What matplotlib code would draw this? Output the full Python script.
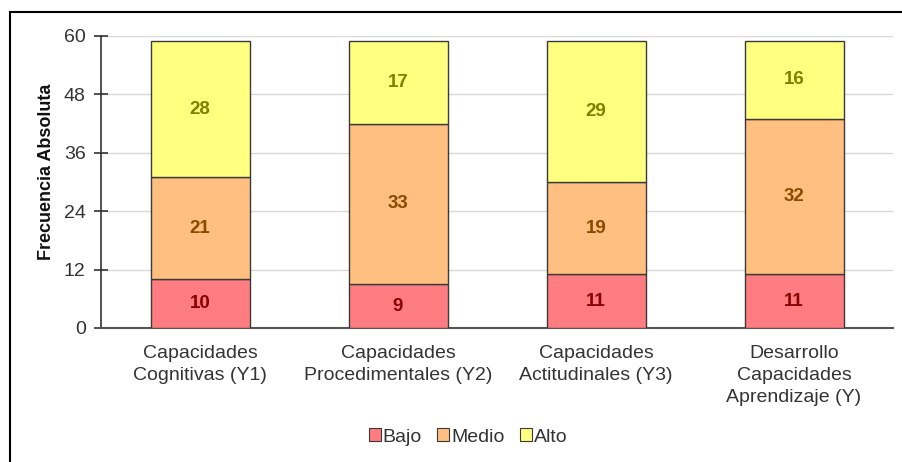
import matplotlib
matplotlib.use("Agg")
import matplotlib.pyplot as plt
from matplotlib.patches import Rectangle
import numpy as np

plt.rcParams['font.family'] = ['Liberation Sans', 'DejaVu Sans']

categories = ["Capacidades\nCognitivas (Y1)",
              "Capacidades\nProcedimentales (Y2)",
              "Capacidades\nActitudinales (Y3)",
              "Desarrollo\nCapacidades\nAprendizaje (Y)"]
bajo = [10, 9, 11, 11]
medio = [21, 33, 19, 32]
alto = [28, 17, 29, 16]
series_names = ["Bajo", "Medio", "Alto"]
yticks = [0, 12, 24, 36, 48, 60]

fills = ["#FF7C80", "#FFBF80", "#FFFF80"]
text_colors = ["#8B0000", "#8B4A00", "#808000"]

fig = plt.figure(figsize=(9.02, 4.62), dpi=100)
ax = fig.add_axes([101 / 902, 1 - 328 / 462, 792 / 902, 292 / 462])

x = np.arange(len(categories))
bottom = np.zeros(len(categories))
for vals, name, fc, tc in zip([bajo, medio, alto], series_names, fills, text_colors):
    vals = np.array(vals, dtype=float)
    ax.bar(x, vals, width=0.5, bottom=bottom, color=fc,
           edgecolor="#3a3a3a", linewidth=1.0, label=name, zorder=3)
    for xi, b, v in zip(x, bottom, vals):
        ax.text(xi, b + v / 2, f"{int(v)}", ha="center", va="center",
                fontsize=13.5, fontweight="bold", color=tc, zorder=4)
    bottom += vals

ax.set_xlim(-0.5, len(categories) - 0.5)
ax.set_ylim(0, 60)
ax.set_yticks(yticks)
ax.set_yticklabels([str(t) for t in yticks], fontsize=14, color="#333333")
ax.set_xticks(x)
ax.set_xticklabels(categories, fontsize=14, color="#333333", linespacing=1.4)
ax.tick_params(axis="x", length=0, pad=12)
ax.tick_params(axis="y", direction="inout", length=10, width=1.2,
               color="#333333", pad=6)
ax.yaxis.grid(True, color="#D9D9D9", linewidth=1.0, zorder=0)
ax.set_axisbelow(True)
for s in ["top", "right"]:
    ax.spines[s].set_visible(False)
ax.spines["left"].set_color("#333333")
ax.spines["left"].set_linewidth(1.2)
ax.spines["bottom"].set_color("#555555")
ax.spines["bottom"].set_linewidth(1.5)

fig.text(47 / 902, 1 - 172 / 462, "Frecuencia Absoluta", rotation=90,
         ha="center", va="center", fontsize=13, fontweight="bold", color="#111111")

leg = fig.legend(loc="center", bbox_to_anchor=(468 / 902, 1 - 437 / 462), ncol=3,
                 frameon=False, fontsize=14, handlelength=0.6, handleheight=0.6,
                 handletextpad=0.1, columnspacing=0.8, labelcolor="#333333")
for h in leg.legend_handles:
    h.set_edgecolor("#3a3a3a")
    h.set_linewidth(0.8)

# outer frame
fig.patches.append(Rectangle((9.5 / 902, -0.1), 2, 1 - 12.5 / 462 + 0.1,
                             transform=fig.transFigure, fill=False,
                             edgecolor="black", linewidth=1.5))

fig.savefig("out.png", dpi=100)
